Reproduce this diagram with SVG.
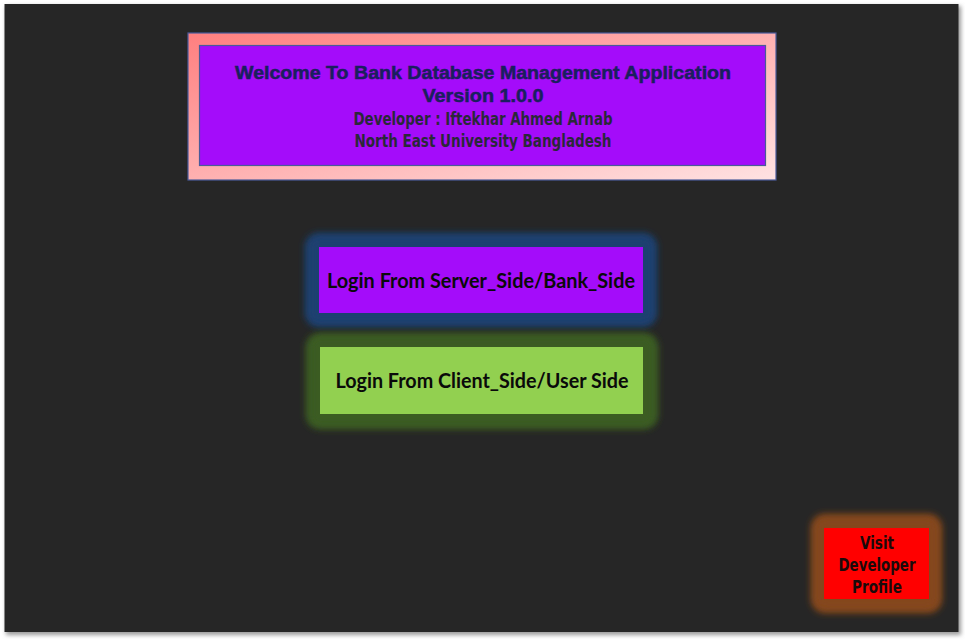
<svg xmlns="http://www.w3.org/2000/svg" width="965" height="640" viewBox="0 0 965 640">
  <defs>
    <linearGradient id="hdrGrad" x1="0" y1="0" x2="1" y2="1">
      <stop offset="0" stop-color="#ff7f7f"/>
      <stop offset="1" stop-color="#ffe2e2"/>
    </linearGradient>
    <filter id="glow" x="-20%" y="-40%" width="140%" height="180%">
      <feGaussianBlur stdDeviation="3.5"/>
    </filter>
    <filter id="shadow" x="-5%" y="-5%" width="110%" height="110%">
      <feGaussianBlur stdDeviation="2"/>
    </filter>
  </defs>
  <style>
    .title { font-family: "Liberation Sans", Arial, sans-serif; font-weight: bold; font-size: 18px; fill: #1a1f5e; stroke: #1a1f5e; stroke-width: 0.5px; }
    .cond { font-family: "DejaVu Sans", "Liberation Sans", sans-serif; font-stretch: condensed; font-weight: bold; font-size: 17px; fill: #2a2838; }
    .btn { font-family: Lato, "Open Sans", sans-serif; font-weight: bold; font-size: 20px; fill: #0a0a0a; }
    .vis { font-family: "DejaVu Sans", "Liberation Sans", sans-serif; font-stretch: condensed; font-weight: bold; font-size: 17px; fill: #1a0a0a; }
  </style>
  <rect x="0" y="0" width="965" height="640" fill="#ffffff"/>
  <rect x="6" y="6" width="955" height="629" fill="#9a9a9a" filter="url(#shadow)"/>
  <rect x="4.5" y="4" width="954" height="628" fill="#262626"/>

  <g id="header">
    <rect x="188" y="33" width="588" height="147" fill="url(#hdrGrad)" stroke="#4a5a9a" stroke-width="1.2"/>
    <rect x="199.5" y="45.5" width="566" height="120" fill="#a40cfa" stroke="#4a5a9a" stroke-width="1.2"/>
    <text class="title" x="483" y="79" text-anchor="middle" textLength="496" lengthAdjust="spacingAndGlyphs">Welcome To Bank Database Management Application</text>
    <text class="title" x="483" y="102" text-anchor="middle" textLength="121" lengthAdjust="spacingAndGlyphs">Version 1.0.0</text>
    <text class="cond" x="483" y="125" text-anchor="middle" textLength="259" lengthAdjust="spacingAndGlyphs">Developer : Iftekhar Ahmed Arnab</text>
    <text class="cond" x="483" y="147" text-anchor="middle" textLength="257" lengthAdjust="spacingAndGlyphs">North East University Bangladesh</text>
  </g>

  <g id="server-login">
    <rect x="305" y="233" width="352" height="94" rx="14" fill="#1f3f70" filter="url(#glow)"/>
    <rect x="309" y="237" width="344" height="86" rx="10" fill="#1f3f70" filter="url(#glow)"/>
    <rect x="319" y="247" width="324" height="66" fill="#a40cfa"/>
    <text class="btn" x="481" y="288" text-anchor="middle" textLength="308" lengthAdjust="spacingAndGlyphs">Login From Server_Side/Bank_Side</text>
  </g>

  <g id="client-login">
    <rect x="306" y="333" width="352" height="96" rx="14" fill="#3b5b24" filter="url(#glow)"/>
    <rect x="310" y="337" width="344" height="88" rx="10" fill="#3b5b24" filter="url(#glow)"/>
    <rect x="320" y="347" width="323" height="67" fill="#92d050"/>
    <text class="btn" x="482" y="388" text-anchor="middle" textLength="293" lengthAdjust="spacingAndGlyphs">Login From Client_Side/User Side</text>
  </g>

  <g id="visit-profile">
    <rect x="811" y="514" width="131" height="99" rx="14" fill="#84461b" filter="url(#glow)"/>
    <rect x="815" y="518" width="123" height="91" rx="10" fill="#84461b" filter="url(#glow)"/>
    <rect x="824" y="528" width="105" height="71" fill="#ff0000"/>
    <text class="vis" x="877" y="549" text-anchor="middle" textLength="34" lengthAdjust="spacingAndGlyphs">Visit</text>
    <text class="vis" x="877" y="571" text-anchor="middle" textLength="77" lengthAdjust="spacingAndGlyphs">Developer</text>
    <text class="vis" x="877" y="593" text-anchor="middle" textLength="50" lengthAdjust="spacingAndGlyphs">Profile</text>
  </g>

  <g id="connectors"/>
</svg>
